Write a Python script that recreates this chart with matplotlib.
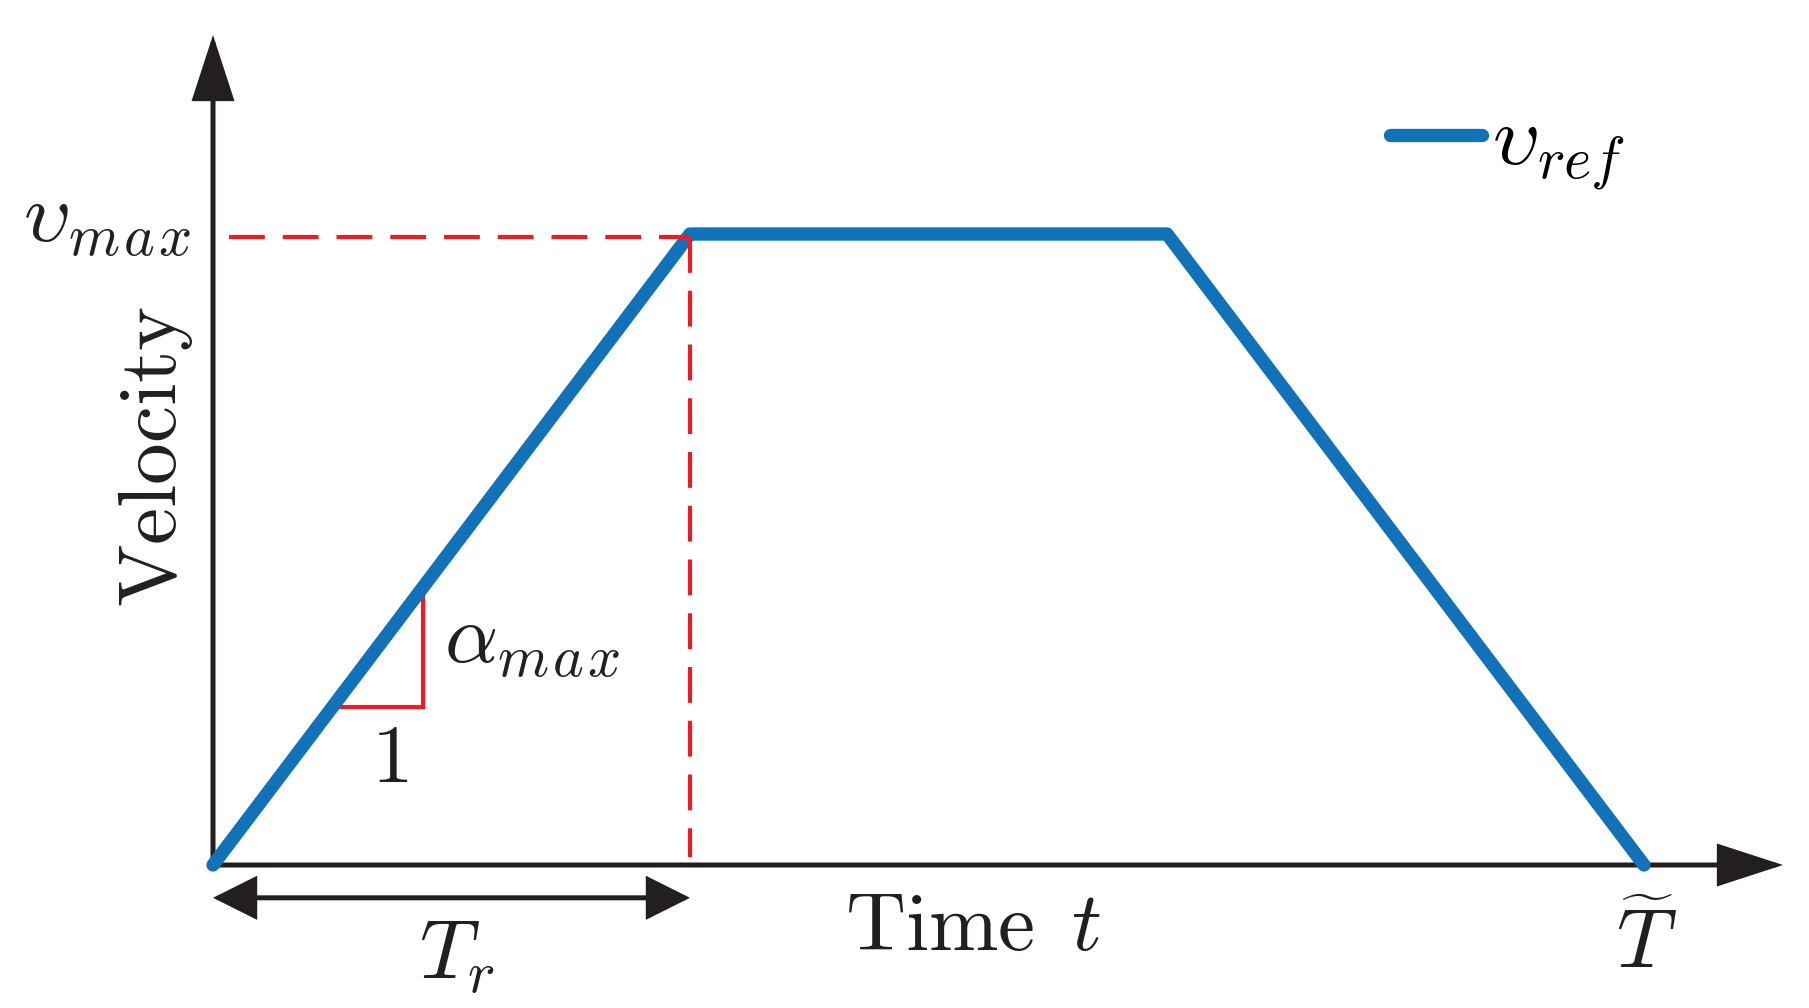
import matplotlib
matplotlib.use("Agg")
import matplotlib.pyplot as plt
from matplotlib.patches import ArrowStyle

plt.rcParams['mathtext.fontset'] = 'cm'

# ---- data (normalised units: time in T_r, velocity in v_max) ----
t_ref = [0.0, 1.0, 2.0, 3.0]          # 0, T_r, T~ - T_r, T~
v_ref = [0.0, 1.0, 1.0, 0.0]          # 0, v_max, v_max, 0
T_r = 1.0
v_max = 1.0
slope_t = [0.25, 0.44, 0.44]          # slope triangle (run 1, rise a_max)
slope_v = [0.25, 0.25, 0.44]

BLUE = '#1172B9'
RED = '#ED1C24'
BLACK = '#231F20'

W, H = 1809, 1008
X0, Y0, SX, SY = 213, 865, 477, 631   # layout: origin and unit sizes in pixels

fig = plt.figure(figsize=(W / 100, H / 100), dpi=100)
ax = fig.add_axes([0, 0, 1, 1])
ax.set_xlim(-X0 / SX, (W - X0) / SX)
ax.set_ylim(-(H - Y0) / SY, Y0 / SY)
ax.axis('off')

FS = 60

# axes arrows
ax_style = ArrowStyle('-|>', head_length=40, head_width=13)
ax.annotate('', xy=(0, (Y0 - 35) / SY), xytext=(0, 0),
            arrowprops=dict(arrowstyle=ax_style, color=BLACK, lw=3.6,
                            shrinkA=0, shrinkB=0, mutation_scale=1,
                            joinstyle='miter'))
ax.annotate('', xy=((1783 - X0) / SX, 0), xytext=(0, 0),
            arrowprops=dict(arrowstyle=ax_style, color=BLACK, lw=3.6,
                            shrinkA=0, shrinkB=0, mutation_scale=1,
                            joinstyle='miter'))

# velocity profile
ax.plot(t_ref, v_ref, color=BLUE, lw=9.6, solid_capstyle='round',
        solid_joinstyle='round', zorder=5, label=r'$\upsilon_{ref}$')

# dashed guide lines (drawn over the profile)
dash = (0, (8.6, 4.3))
ax.plot([0.034, T_r], [v_max - 0.005, v_max - 0.005], color=RED, lw=3.0,
        linestyle=dash, zorder=6)
ax.plot([T_r, T_r], [v_max - 0.005, 0.012], color=RED, lw=3.0,
        linestyle=dash, zorder=6)

# slope triangle
ax.plot(slope_t, slope_v, color=RED, lw=3.0, solid_joinstyle='miter', zorder=4)

# T_r double arrow
tr_style = ArrowStyle('<|-|>', head_length=26, head_width=13)
ax.annotate('', xy=(T_r, -0.052), xytext=(0, -0.052),
            arrowprops=dict(arrowstyle=tr_style, color=BLACK, lw=3.6,
                            shrinkA=0, shrinkB=0, mutation_scale=1,
                            joinstyle='miter'))

# labels
ax.text(-0.046, 0.987, r'$\upsilon_{m\hspace{0.08}a\hspace{0.08}x}$',
        fontsize=FS, ha='right', va='baseline', color=BLACK)
ax.text(-0.122, 0.648, r'$\mathrm{Velocity}$', fontsize=FS, rotation=90,
        ha='center', va='center', color=BLACK)
ax.text(0.484, 0.320, r'$\alpha_{m\hspace{0.08}a\hspace{0.08}x}$',
        fontsize=FS, ha='left', va='baseline', color=BLACK)
ax.text(0.370, 0.1315, r'$1$', fontsize=FS, ha='center', va='baseline',
        color=BLACK)
ax.text(0.512, -0.181, r'$T_r$', fontsize=FS, ha='center', va='baseline',
        color=BLACK)
ax.text(1.325, -0.1347, r'$\mathrm{Time}\ \,t$', fontsize=FS, ha='left',
        va='baseline', color=BLACK)
ax.text(3.006, -0.163, r'$\widetilde{T}$', fontsize=FS, ha='center',
        va='baseline', color=BLACK)

leg = ax.legend(loc='upper left', bbox_to_anchor=(1390 / W, 1 - 100 / H),
                bbox_transform=fig.transFigure, frameon=False, fontsize=FS,
                handlelength=1.1, handletextpad=0.13, borderpad=0,
                borderaxespad=0)

fig.savefig('out.png', dpi=100)
